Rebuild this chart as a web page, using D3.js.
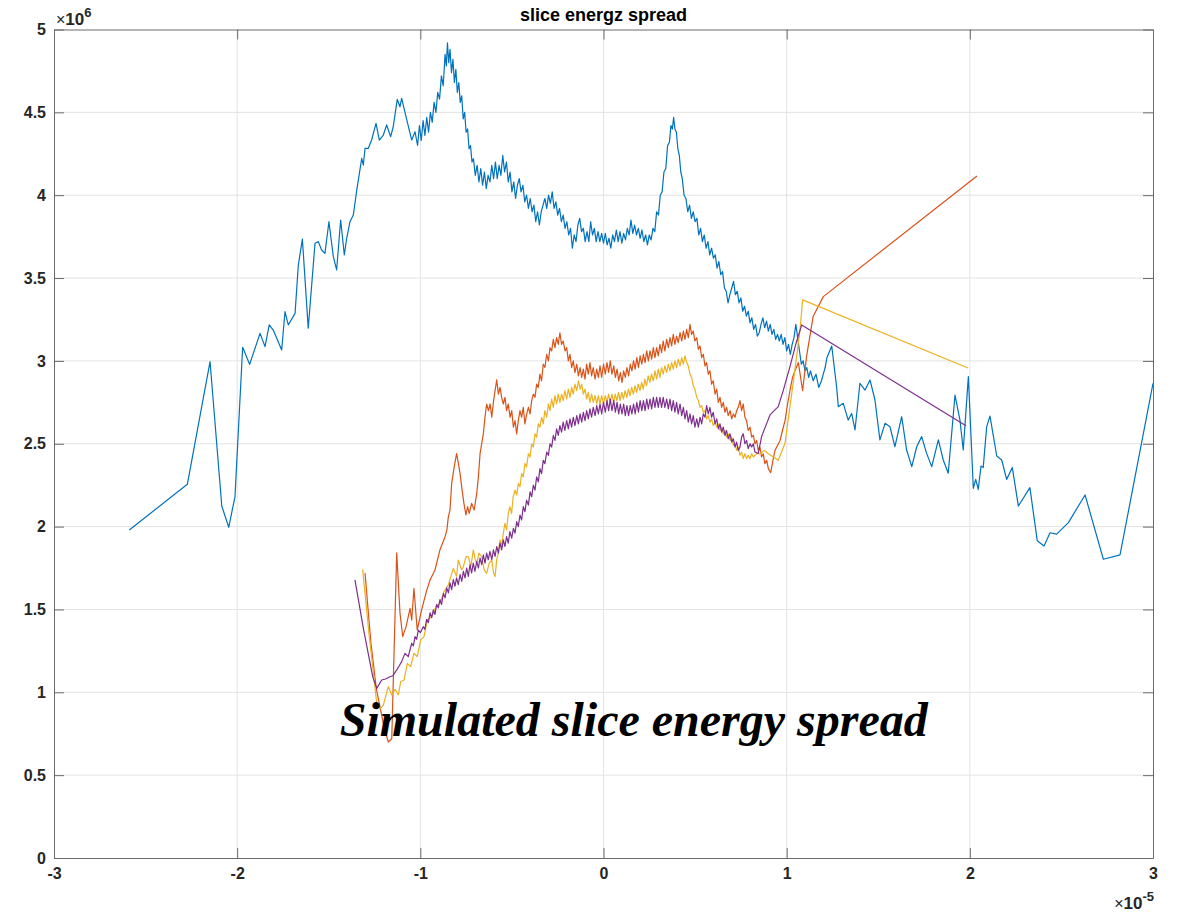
<!DOCTYPE html>
<html>
<head>
<meta charset="utf-8">
<script src="https://cdn.jsdelivr.net/npm/d3@7"></script>
<style>
  body { margin: 0; background: #fff; }
  svg { display: block; }
  .tick text { font-family: "Liberation Sans", Arial, sans-serif; font-weight: bold; font-size: 16px; fill: #262626; }
</style>
</head>
<body>
<svg width="1181" height="912"></svg>
<script>
// tick values (x in units of 1e-5, y in units of 1e6)
var xTicks = [-3, -2, -1, 0, 1, 2, 3];
var yTicks = [0, 0.5, 1, 1.5, 2, 2.5, 3, 3.5, 4, 4.5, 5];

var titleText = 'slice energz spread';
var noteText = 'Simulated slice energy spread';
var notePos = [-1.44, 0.735];

// series 1 (blue)
var blueData = [[-2.589,1.98],[-2.272,2.255],[-2.148,2.995],[-2.084,2.124],[-2.046,1.996],[-2.012,2.18],[-1.970,3.082],[-1.932,2.979],[-1.875,3.166],[-1.848,3.086],[-1.825,3.217],[-1.803,3.186],[-1.757,3.066],[-1.739,3.297],[-1.721,3.217],[-1.684,3.287],[-1.666,3.579],[-1.644,3.735],[-1.612,3.197],[-1.575,3.71],[-1.557,3.72],[-1.539,3.669],[-1.521,3.649],[-1.499,3.84],[-1.475,3.629],[-1.457,3.549],[-1.435,3.85],[-1.415,3.639],[-1.402,3.74],[-1.384,3.84],[-1.366,3.88],[-1.347,4.031],[-1.320,4.222],[-1.311,4.182],[-1.302,4.283],[-1.284,4.283],[-1.266,4.333],[-1.242,4.434],[-1.224,4.333],[-1.202,4.363],[-1.184,4.424],[-1.162,4.353],[-1.148,4.413],[-1.126,4.578],[-1.111,4.534],[-1.102,4.585],[-1.074,4.454],[-1.047,4.333],[-1.029,4.383],
  [-1.015,4.30],[-1.005,4.42],[-0.995,4.33],[-0.985,4.45],[-0.975,4.36],[-0.965,4.47],[-0.955,4.38],[-0.945,4.50],[-0.935,4.44],[-0.925,4.56],[-0.915,4.50],[-0.905,4.62],[-0.895,4.58],[-0.885,4.72],[-0.875,4.66],[-0.865,4.85],[-0.858,4.78],[-0.852,4.92],[-0.845,4.80],[-0.838,4.88],[-0.830,4.74],[-0.822,4.82],[-0.814,4.68],[-0.806,4.76],[-0.798,4.62],[-0.790,4.68],[-0.782,4.56],[-0.774,4.60],[-0.766,4.46],[-0.758,4.50],[-0.750,4.38],[-0.742,4.40],[-0.734,4.28],[-0.726,4.30],[-0.718,4.20],[-0.710,4.22],[-0.700,4.12],[-0.690,4.18],[-0.680,4.08],[-0.670,4.16],[-0.660,4.06],[-0.650,4.14],[-0.640,4.04],[-0.630,4.12],[-0.620,4.08],[-0.610,4.18],[-0.600,4.10],[-0.590,4.20],[-0.580,4.10],[-0.570,4.18],[-0.560,4.12],[-0.550,4.24],[-0.540,4.14],[-0.530,4.20],[-0.520,4.08],[-0.510,4.14],[-0.500,4.02],[-0.490,4.08],[-0.480,3.98],[-0.470,4.06],[-0.460,4.10],[-0.450,4.02],[-0.440,4.06],[-0.430,3.96],[-0.420,4.00],[-0.410,3.92],[-0.400,3.98],[-0.390,3.90],[-0.380,3.94],[-0.370,3.84],[-0.360,3.90],[-0.350,3.82],[-0.340,3.90],[-0.330,3.94],[-0.320,3.98],[-0.310,3.92],[-0.300,4.00],[-0.290,3.95],[-0.280,4.02],[-0.270,3.92],[-0.260,3.96],[-0.250,3.88],[-0.240,3.92],[-0.230,3.84],[-0.220,3.88],[-0.210,3.80],[-0.200,3.84],[-0.190,3.76],[-0.180,3.80],[-0.170,3.68],[-0.160,3.76],[-0.150,3.72],[-0.140,3.82],[-0.130,3.86],[-0.120,3.78],[-0.110,3.80],[-0.100,3.72],[-0.090,3.78],[-0.080,3.72],[-0.070,3.84],[-0.060,3.76],[-0.050,3.80],[-0.040,3.72],[-0.030,3.78],[-0.020,3.72],[-0.010,3.77],[0.000,3.71],[0.010,3.77],[0.020,3.70],[0.030,3.74],[0.040,3.68],[0.050,3.76],[0.060,3.72],[0.070,3.79],[0.080,3.72],[0.090,3.78],[0.100,3.71],[0.110,3.77],[0.120,3.73],[0.130,3.80],[0.140,3.76],[0.150,3.85],[0.160,3.77],[0.170,3.82],[0.180,3.76],[0.190,3.80],[0.200,3.74],[0.210,3.79],[0.220,3.72],[0.230,3.76],[0.240,3.70],[0.250,3.76],[0.260,3.73],[0.270,3.80],[0.280,3.78],[0.290,3.90],[0.300,3.88],[0.310,4.00],[0.320,4.02],[0.330,4.14],[0.340,4.16],[0.350,4.30],[0.360,4.32],[0.368,4.42],[0.376,4.40],[0.383,4.47],[0.390,4.40],[0.398,4.38],[0.406,4.28],[0.414,4.24],[0.422,4.14],[0.430,4.10],[0.440,4.00],[0.450,3.98],[0.460,3.90],[0.470,3.94],[0.480,3.86],[0.490,3.90],[0.500,3.84],[0.510,3.86],[0.520,3.76],[0.530,3.80],[0.540,3.72],[0.550,3.76],[0.560,3.68],[0.570,3.72],[0.580,3.64],[0.590,3.68],[0.600,3.62],[0.610,3.64],[0.620,3.56],[0.630,3.60],[0.640,3.52],[0.650,3.54],[0.660,3.44],[0.670,3.42],[0.680,3.35],[0.690,3.40],[0.700,3.44],[0.710,3.48],[0.720,3.40],[0.730,3.42],[0.740,3.35],[0.750,3.38],[0.760,3.30],[0.770,3.33],[0.780,3.27],[0.790,3.30],[0.800,3.23],[0.810,3.26],[0.820,3.19],[0.830,3.22],[0.840,3.15],[0.850,3.17],[0.860,3.22],[0.870,3.26],[0.880,3.20],[0.890,3.24],[0.900,3.18],[0.910,3.22],[0.920,3.16],[0.930,3.19],[0.940,3.13],[0.950,3.16],[0.960,3.12],[0.970,3.16],[0.980,3.10],[0.990,3.14],[1.000,3.06],[1.010,3.10],[1.020,3.04],[1.030,3.10],[1.040,3.14],[1.050,3.22],[1.060,3.14],[1.070,3.06],[1.080,2.98],[1.090,3.00],[1.100,2.94],[1.110,2.96],[1.120,2.90],[1.130,2.94],[1.145,2.88],[1.160,2.92],[1.175,2.84],[1.190,2.88],[1.200,2.92],[1.210,2.96],[1.220,3.02],[1.235,3.06],[1.246,3.09],[1.260,2.96],[1.273,2.84],[1.282,2.724],
  [1.309,2.744],[1.336,2.643],[1.355,2.683],[1.373,2.583],[1.400,2.865],[1.428,2.824],[1.455,2.885],[1.482,2.764],[1.509,2.523],[1.537,2.623],[1.564,2.603],[1.591,2.482],[1.628,2.663],[1.655,2.462],[1.683,2.362],[1.710,2.482],[1.737,2.543],[1.764,2.442],[1.792,2.362],[1.828,2.523],[1.855,2.402],[1.882,2.322],[1.919,2.794],[1.946,2.643],[1.964,2.462],[1.992,2.905],[2.019,2.231],[2.032,2.285],[2.046,2.225],[2.061,2.366],[2.073,2.356],[2.092,2.603],[2.110,2.667],[2.147,2.426],[2.174,2.402],[2.201,2.285],[2.232,2.356],[2.265,2.124],[2.328,2.235],[2.368,1.915],[2.405,1.883],[2.438,1.963],[2.474,1.955],[2.538,2.024],[2.629,2.191],[2.729,1.803],[2.820,1.829],[3.0,2.865]];

// series 2 (orange)
var orangeData = [[-1.302,1.72],[-1.27,1.30],[-1.24,1.02],[-1.20,0.80],[-1.175,0.70],[-1.156,0.72],[-1.129,1.842],[-1.111,1.477],[-1.096,1.336],[-1.078,1.396],[-1.056,1.507],[-1.047,1.436],[-1.035,1.628],[-1.017,1.376],[-0.993,1.497],[-0.965,1.617],[-0.947,1.678],[-0.920,1.738],[-0.893,1.859],[-0.865,1.939],
  [-0.855,1.98],[-0.847,2.06],[-0.838,2.10],[-0.829,2.26],[-0.815,2.36],[-0.802,2.44],[-0.792,2.38],[-0.783,2.32],[-0.772,2.22],[-0.762,2.14],[-0.751,2.07],[-0.742,2.12],[-0.733,2.08],[-0.720,2.14],[-0.706,2.10],[-0.692,2.20],[-0.683,2.30],[-0.674,2.44],[-0.665,2.50],[-0.656,2.56],[-0.647,2.66],[-0.638,2.74],[-0.628,2.70],[-0.619,2.74],[-0.610,2.66],[-0.600,2.76],[-0.592,2.82],[-0.583,2.885],[-0.574,2.80],[-0.565,2.84],[-0.556,2.78],[-0.547,2.74],[-0.538,2.78],[-0.529,2.70],[-0.520,2.74],[-0.510,2.66],[-0.501,2.70],[-0.492,2.60],[-0.483,2.64],[-0.474,2.56],[-0.465,2.64],[-0.456,2.70],[-0.447,2.66],[-0.438,2.72],[-0.429,2.62],[-0.419,2.68],[-0.410,2.72],[-0.401,2.68],[-0.392,2.76],[-0.383,2.80],[-0.374,2.78],[-0.365,2.86],[-0.356,2.84],[-0.347,2.92],[-0.338,2.88],[-0.329,2.98],[-0.320,2.96],[-0.310,3.04],[-0.301,3.00],[-0.292,3.08],[-0.283,3.06],[-0.274,3.13],[-0.265,3.08],[-0.256,3.14],[-0.247,3.10],[-0.238,3.17],[-0.229,3.10],[-0.220,3.12],[-0.210,3.06],[-0.201,3.08],[-0.192,3.00],[-0.183,3.04],[-0.174,2.96],[-0.165,3.00],[-0.156,2.93],[-0.146,2.98],[-0.137,2.91],[-0.128,2.96],[-0.119,2.90],[-0.110,2.95],[-0.101,2.89],[-0.092,2.98],[-0.083,2.92],[-0.074,2.99],[-0.065,2.91],[-0.056,2.96],[-0.046,2.89],[-0.037,2.95],[-0.028,2.90],[-0.019,2.97],[-0.010,2.90],[0.000,2.98],[0.010,2.92],[0.019,2.99],[0.028,2.93],[0.037,3.00],[0.046,2.92],[0.056,2.97],[0.065,2.90],[0.074,2.95],[0.083,2.88],[0.092,2.93],[0.101,2.87],[0.110,2.94],[0.119,2.90],[0.128,2.96],[0.137,2.91],[0.146,2.98],[0.155,2.94],[0.164,3.00],[0.173,2.95],[0.182,3.02],[0.191,2.96],[0.200,3.03],[0.209,2.98],[0.218,3.04],[0.227,2.99],[0.236,3.06],[0.245,3.00],[0.254,3.06],[0.263,3.01],[0.272,3.08],[0.281,3.02],[0.290,3.08],[0.299,3.03],[0.308,3.10],[0.317,3.05],[0.326,3.12],[0.335,3.06],[0.345,3.13],[0.354,3.08],[0.363,3.14],[0.372,3.09],[0.381,3.16],[0.390,3.10],[0.399,3.15],[0.408,3.11],[0.418,3.17],[0.427,3.12],[0.436,3.18],[0.445,3.13],[0.454,3.19],[0.463,3.14],[0.472,3.22],[0.481,3.16],[0.490,3.18],[0.499,3.12],[0.509,3.14],[0.518,3.07],[0.527,3.09],[0.536,3.02],[0.545,3.04],[0.554,2.97],[0.563,2.99],[0.572,2.92],[0.581,2.94],[0.590,2.86],[0.599,2.88],[0.609,2.80],[0.618,2.83],[0.627,2.75],[0.636,2.78],[0.645,2.72],[0.654,2.75],[0.663,2.69],[0.672,2.72],[0.681,2.67],[0.691,2.70],[0.700,2.65],[0.709,2.68],[0.718,2.66],[0.727,2.70],[0.736,2.72],[0.745,2.76],[0.754,2.70],[0.763,2.74],[0.772,2.66],[0.781,2.64],[0.790,2.58],[0.800,2.60],[0.809,2.54],[0.818,2.55],[0.827,2.50],[0.836,2.52],[0.845,2.46],[0.854,2.48],[0.863,2.42],[0.872,2.44],[0.881,2.38],[0.891,2.40],[0.900,2.35],[0.913,2.326],[0.925,2.40],[0.936,2.46],[0.950,2.49],[0.964,2.52],[0.977,2.58],[0.991,2.64],[1.005,2.74],[1.018,2.82],[1.032,2.90],[1.045,2.94],[1.064,2.99],[1.087,2.82],[1.109,3.03],[1.145,3.27],[1.200,3.388],[2.039,4.116]];

// series 3 (yellow)
var yellowData = [[-1.315,1.742],[-1.28,1.35],[-1.238,0.934],[-1.220,0.90],[-1.202,0.923],[-1.175,1.034],[-1.156,0.984],[-1.138,1.018],[-1.120,0.984],[-1.107,1.064],[-1.089,1.074],[-1.071,1.175],[-1.053,1.155],[-1.035,1.235],[-1.017,1.215],[-0.998,1.316],[-0.980,1.336],[-0.962,1.436],[-0.938,1.456],[-0.915,1.517],[-0.893,1.537],[-0.871,1.607],[-0.847,1.648],[-0.820,1.748],[-0.802,1.70],[-0.793,1.798],[-0.775,1.74],[-0.765,1.758],[-0.750,1.82],[-0.738,1.818],[-0.724,1.76],[-0.711,1.859],[-0.700,1.80],[-0.692,1.778],[-0.680,1.84],[-0.665,1.818],[-0.652,1.74],[-0.638,1.718],[-0.624,1.78],[-0.610,1.798],[-0.600,1.72],[-0.592,1.698],[-0.583,1.80],[-0.574,1.84],[-0.565,1.919],[-0.556,1.88],[-0.547,1.96],[-0.538,2.019],[-0.529,1.98],[-0.520,2.08],[-0.511,2.12],[-0.502,2.08],[-0.493,2.18],[-0.483,2.22],[-0.474,2.19],[-0.465,2.26],[-0.456,2.24],[-0.447,2.32],[-0.438,2.30],[-0.429,2.38],[-0.420,2.36],[-0.410,2.44],[-0.401,2.42],[-0.392,2.50],[-0.383,2.48],[-0.374,2.56],[-0.365,2.54],[-0.356,2.62],[-0.347,2.60],[-0.338,2.66],[-0.329,2.62],[-0.320,2.70],[-0.310,2.66],[-0.301,2.74],[-0.292,2.70],[-0.283,2.77],[-0.274,2.72],[-0.265,2.79],[-0.256,2.74],[-0.247,2.80],[-0.238,2.75],[-0.229,2.80],[-0.220,2.76],[-0.211,2.82],[-0.201,2.77],[-0.192,2.83],[-0.183,2.78],[-0.174,2.84],[-0.165,2.80],[-0.156,2.86],[-0.146,2.82],[-0.137,2.88],[-0.128,2.83],[-0.119,2.86],[-0.110,2.80],[-0.101,2.83],[-0.092,2.77],[-0.083,2.81],[-0.074,2.75],[-0.065,2.80],[-0.056,2.75],[-0.046,2.79],[-0.037,2.74],[-0.028,2.79],[-0.019,2.74],[-0.010,2.79],[0.000,2.74],[0.010,2.79],[0.019,2.75],[0.028,2.80],[0.037,2.75],[0.046,2.80],[0.055,2.75],[0.064,2.80],[0.073,2.76],[0.082,2.81],[0.091,2.76],[0.100,2.81],[0.109,2.77],[0.118,2.82],[0.127,2.78],[0.136,2.83],[0.145,2.79],[0.154,2.84],[0.163,2.80],[0.172,2.85],[0.181,2.81],[0.190,2.86],[0.199,2.82],[0.208,2.87],[0.217,2.83],[0.226,2.89],[0.235,2.85],[0.244,2.91],[0.253,2.87],[0.262,2.92],[0.272,2.88],[0.281,2.94],[0.290,2.89],[0.299,2.95],[0.308,2.90],[0.317,2.96],[0.326,2.92],[0.335,2.97],[0.345,2.93],[0.354,2.98],[0.363,2.94],[0.372,2.99],[0.381,2.95],[0.390,3.00],[0.399,2.96],[0.408,3.01],[0.418,2.97],[0.427,3.02],[0.436,2.98],[0.445,3.03],[0.454,2.99],[0.463,2.97],[0.472,2.92],[0.481,2.90],[0.490,2.85],[0.499,2.83],[0.509,2.78],[0.518,2.76],[0.527,2.72],[0.536,2.73],[0.545,2.69],[0.554,2.70],[0.563,2.65],[0.572,2.67],[0.581,2.63],[0.590,2.65],[0.599,2.61],[0.609,2.63],[0.618,2.60],[0.627,2.62],[0.636,2.58],[0.645,2.60],[0.654,2.56],[0.663,2.58],[0.672,2.54],[0.681,2.56],[0.691,2.52],[0.700,2.54],[0.709,2.49],[0.718,2.50],[0.727,2.46],[0.736,2.48],[0.745,2.43],[0.754,2.45],[0.763,2.41],[0.772,2.44],[0.781,2.41],[0.790,2.43],[0.800,2.41],[0.809,2.44],[0.818,2.42],[0.836,2.44],[0.854,2.44],[0.880,2.46],[0.900,2.44],[0.927,2.42],[0.954,2.40],[0.991,2.503],[1.018,2.724],[1.045,2.945],[1.073,3.187],[1.087,3.368],[1.990,2.957]];

// series 4 (purple)
var purpleData = [[-1.357,1.678],[-1.31,1.38],[-1.260,1.094],[-1.238,1.024],[-1.211,1.074],[-1.190,1.08],[-1.166,1.094],[-1.150,1.10],[-1.129,1.135],[-1.115,1.16],[-1.102,1.185],[-1.084,1.235],[-1.066,1.215],[-1.047,1.296],[-1.038,1.28],[-1.029,1.336],[-1.020,1.32],[-1.011,1.376],[-1.000,1.36],[-0.984,1.396],[-0.975,1.38],[-0.966,1.44],[-0.956,1.42],[-0.947,1.48],[-0.938,1.45],[-0.929,1.497],[-0.920,1.47],[-0.911,1.53],[-0.902,1.51],[-0.893,1.56],[-0.884,1.53],[-0.874,1.597],[-0.865,1.57],[-0.856,1.63],[-0.847,1.60],[-0.838,1.66],[-0.829,1.62],[-0.820,1.68],[-0.811,1.64],[-0.802,1.69],[-0.793,1.65],[-0.783,1.71],[-0.774,1.67],[-0.765,1.73],[-0.756,1.69],[-0.747,1.75],[-0.738,1.70],[-0.729,1.77],[-0.720,1.72],[-0.711,1.78],[-0.702,1.73],[-0.692,1.79],[-0.683,1.75],[-0.674,1.81],[-0.665,1.77],[-0.656,1.83],[-0.647,1.78],[-0.638,1.84],[-0.629,1.80],[-0.620,1.85],[-0.610,1.80],[-0.601,1.86],[-0.592,1.82],[-0.583,1.88],[-0.574,1.84],[-0.565,1.90],[-0.556,1.86],[-0.547,1.92],[-0.538,1.88],[-0.529,1.94],[-0.520,1.90],[-0.511,1.97],[-0.501,1.93],[-0.492,1.99],[-0.483,1.96],[-0.474,2.03],[-0.465,2.00],[-0.456,2.07],[-0.447,2.04],[-0.438,2.12],[-0.429,2.09],[-0.420,2.16],[-0.410,2.13],[-0.401,2.21],[-0.392,2.18],[-0.383,2.25],[-0.374,2.22],[-0.365,2.30],[-0.356,2.27],[-0.347,2.35],[-0.338,2.32],[-0.329,2.40],[-0.320,2.38],[-0.310,2.45],[-0.301,2.43],[-0.292,2.50],[-0.283,2.48],[-0.274,2.55],[-0.265,2.52],[-0.256,2.59],[-0.247,2.55],[-0.238,2.61],[-0.229,2.57],[-0.220,2.63],[-0.211,2.58],[-0.201,2.64],[-0.192,2.59],[-0.183,2.65],[-0.174,2.60],[-0.165,2.66],[-0.156,2.61],[-0.146,2.67],[-0.137,2.62],[-0.128,2.68],[-0.119,2.63],[-0.110,2.69],[-0.101,2.64],[-0.092,2.70],[-0.083,2.65],[-0.074,2.71],[-0.065,2.66],[-0.056,2.72],[-0.046,2.67],[-0.037,2.73],[-0.028,2.68],[-0.019,2.74],[-0.010,2.68],[0.000,2.75],[0.010,2.69],[0.019,2.76],[0.028,2.70],[0.037,2.77],[0.046,2.70],[0.056,2.76],[0.065,2.69],[0.074,2.75],[0.083,2.68],[0.092,2.74],[0.101,2.68],[0.110,2.74],[0.119,2.67],[0.128,2.73],[0.137,2.67],[0.146,2.73],[0.155,2.68],[0.164,2.74],[0.173,2.68],[0.182,2.75],[0.191,2.69],[0.200,2.76],[0.209,2.70],[0.218,2.76],[0.227,2.70],[0.236,2.77],[0.245,2.71],[0.254,2.77],[0.263,2.71],[0.272,2.78],[0.281,2.72],[0.290,2.78],[0.299,2.72],[0.308,2.78],[0.317,2.72],[0.326,2.78],[0.335,2.72],[0.345,2.77],[0.354,2.71],[0.363,2.77],[0.372,2.70],[0.381,2.76],[0.390,2.69],[0.399,2.75],[0.408,2.68],[0.418,2.74],[0.427,2.67],[0.436,2.72],[0.445,2.65],[0.454,2.70],[0.463,2.63],[0.472,2.68],[0.481,2.62],[0.490,2.67],[0.499,2.60],[0.509,2.65],[0.518,2.60],[0.527,2.66],[0.536,2.62],[0.545,2.68],[0.554,2.66],[0.563,2.73],[0.572,2.68],[0.581,2.72],[0.590,2.66],[0.599,2.69],[0.609,2.62],[0.618,2.65],[0.627,2.59],[0.636,2.62],[0.645,2.57],[0.654,2.60],[0.663,2.55],[0.672,2.58],[0.681,2.53],[0.691,2.56],[0.700,2.51],[0.709,2.53],[0.718,2.48],[0.727,2.51],[0.736,2.46],[0.745,2.48],[0.754,2.54],[0.763,2.56],[0.772,2.50],[0.781,2.52],[0.790,2.47],[0.800,2.50],[0.809,2.48],[0.818,2.50],[0.827,2.45],[0.845,2.442],[0.863,2.543],[0.891,2.623],[0.909,2.674],[0.936,2.704],[0.954,2.724],[0.982,2.824],[1.018,2.965],[1.051,3.106],[1.082,3.217],[1.979,2.608]];

var seriesList = [
  {name: 'blue', values: blueData, color: '#0072BD'},
  {name: 'orange', values: orangeData, color: '#D95319'},
  {name: 'yellow', values: yellowData, color: '#EDB120'},
  {name: 'purple', values: purpleData, color: '#7E2F8E'}
];

var svg = d3.select('svg');
var plot = {left: 54, right: 1153, top: 29.5, bottom: 858};

var xScale = d3.scaleLinear().domain([-3, 3]).range([plot.left, plot.right]);
var yScale = d3.scaleLinear().domain([0, 5]).range([plot.bottom, plot.top]);

var axisColor = '#6b6b6b';

// grid
var grid = svg.append('g').attr('class', 'grid');
grid.selectAll('.vgrid')
    .data(xTicks.slice(1, -1))
    .enter().append('line')
    .attr('x1', function(d) { return xScale(d); })
    .attr('x2', function(d) { return xScale(d); })
    .attr('y1', plot.top).attr('y2', plot.bottom)
    .style('stroke', '#e3e3e3').style('stroke-width', 1);
grid.selectAll('.hgrid')
    .data(yTicks.slice(1, -1))
    .enter().append('line')
    .attr('y1', function(d) { return yScale(d); })
    .attr('y2', function(d) { return yScale(d); })
    .attr('x1', plot.left).attr('x2', plot.right)
    .style('stroke', '#e3e3e3').style('stroke-width', 1);

// lines
svg.append('clipPath').attr('id', 'clip')
    .append('rect')
    .attr('x', plot.left).attr('y', plot.top)
    .attr('width', plot.right - plot.left).attr('height', plot.bottom - plot.top);

var line = d3.line()
    .x(function(d) { return xScale(d[0]); })
    .y(function(d) { return yScale(d[1]); });

svg.append('g')
    .attr('clip-path', 'url(#clip)')
    .selectAll('.series')
    .data(seriesList)
    .enter().append('path')
    .attr('class', 'series')
    .attr('d', function(d) { return line(d.values); })
    .style('fill', 'none')
    .style('stroke', function(d) { return d.color; })
    .style('stroke-width', 1.2)
    .style('stroke-linejoin', 'round');

// axes (ticks pointing inward, box on)
var fmt = function(d) { return String(d); };

var xAxisG = svg.append('g')
    .attr('transform', 'translate(0,' + plot.bottom + ')')
    .call(d3.axisBottom(xScale).tickValues(xTicks).tickFormat(fmt).tickSize(-10).tickSizeOuter(0).tickPadding(10));
var yAxisG = svg.append('g')
    .attr('transform', 'translate(' + plot.left + ',0)')
    .call(d3.axisLeft(yScale).tickValues(yTicks).tickFormat(fmt).tickSize(-10).tickSizeOuter(0).tickPadding(8));
var topAxisG = svg.append('g')
    .attr('transform', 'translate(0,' + plot.top + ')')
    .call(d3.axisTop(xScale).tickValues(xTicks).tickFormat('').tickSize(-10).tickSizeOuter(0));
var rightAxisG = svg.append('g')
    .attr('transform', 'translate(' + plot.right + ',0)')
    .call(d3.axisRight(yScale).tickValues(yTicks).tickFormat('').tickSize(-10).tickSizeOuter(0));

[xAxisG, yAxisG, topAxisG, rightAxisG].forEach(function(g) {
  g.select('.domain').style('stroke', axisColor);
  g.selectAll('.tick line').style('stroke', axisColor);
});

// title
svg.append('text')
    .attr('x', (plot.left + plot.right) / 2)
    .attr('y', 21)
    .attr('text-anchor', 'middle')
    .style('font-family', '"Liberation Sans", Arial, sans-serif')
    .style('font-weight', 'bold')
    .style('font-size', '18px')
    .style('fill', '#000')
    .text(titleText);

// exponent labels
var yExp = svg.append('text')
    .attr('x', plot.left + 2)
    .attr('y', 25)
    .style('font-family', '"Liberation Sans", Arial, sans-serif')
    .style('fill', '#262626');
yExp.append('tspan').style('font-size', '16px').text('\u00d7');
yExp.append('tspan').style('font-size', '17px').style('font-weight', 'bold').text('10');
yExp.append('tspan').attr('dy', -8).style('font-size', '13px').style('font-weight', 'bold').text('6');

var xExp = svg.append('text')
    .attr('x', plot.right + 1)
    .attr('y', 909)
    .attr('text-anchor', 'end')
    .style('font-family', '"Liberation Sans", Arial, sans-serif')
    .style('fill', '#262626');
xExp.append('tspan').style('font-size', '16px').text('\u00d7');
xExp.append('tspan').style('font-size', '17px').style('font-weight', 'bold').text('10');
xExp.append('tspan').attr('dy', -8).style('font-size', '13px').style('font-weight', 'bold').text('-5');

// annotation
svg.append('text')
    .attr('x', xScale(notePos[0]))
    .attr('y', yScale(notePos[1]))
    .style('font-family', '"Liberation Serif", "Times New Roman", serif')
    .style('font-weight', 'bold')
    .style('font-style', 'italic')
    .style('font-size', '48px')
    .style('fill', '#000')
    .text(noteText);
</script>
</body>
</html>
